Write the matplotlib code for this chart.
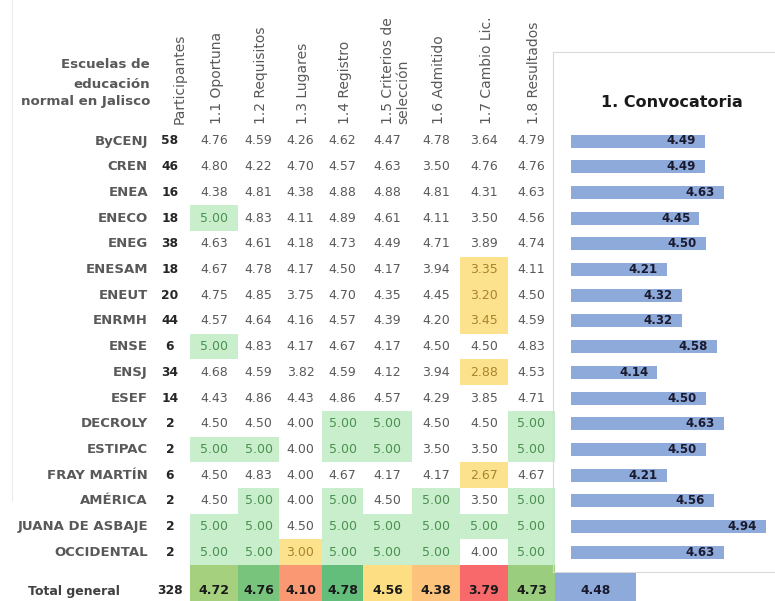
import numpy as np
import matplotlib.pyplot as plt
from matplotlib.patches import Rectangle
from matplotlib.colors import LinearSegmentedColormap, TwoSlopeNorm

escuelas = ['ByCENJ', 'CREN', 'ENEA', 'ENECO', 'ENEG', 'ENESAM', 'ENEUT', 'ENRMH',
            'ENSE', 'ENSJ', 'ESEF', 'DECROLY', 'ESTIPAC', 'FRAY MARTÍN', 'AMÉRICA',
            'JUANA DE ASBAJE', 'OCCIDENTAL']
participantes = [58, 46, 16, 18, 38, 18, 20, 44, 6, 34, 14, 2, 2, 6, 2, 2, 2]
columnas = ['1.1 Oportuna', '1.2 Requisitos', '1.3 Lugares', '1.4 Registro',
            '1.5 Criterios de\nselección', '1.6 Admitido', '1.7 Cambio Lic.', '1.8 Resultados']
valores = [
    [4.76, 4.59, 4.26, 4.62, 4.47, 4.78, 3.64, 4.79],
    [4.80, 4.22, 4.70, 4.57, 4.63, 3.50, 4.76, 4.76],
    [4.38, 4.81, 4.38, 4.88, 4.88, 4.81, 4.31, 4.63],
    [5.00, 4.83, 4.11, 4.89, 4.61, 4.11, 3.50, 4.56],
    [4.63, 4.61, 4.18, 4.73, 4.49, 4.71, 3.89, 4.74],
    [4.67, 4.78, 4.17, 4.50, 4.17, 3.94, 3.35, 4.11],
    [4.75, 4.85, 3.75, 4.70, 4.35, 4.45, 3.20, 4.50],
    [4.57, 4.64, 4.16, 4.57, 4.39, 4.20, 3.45, 4.59],
    [5.00, 4.83, 4.17, 4.67, 4.17, 4.50, 4.50, 4.83],
    [4.68, 4.59, 3.82, 4.59, 4.12, 3.94, 2.88, 4.53],
    [4.43, 4.86, 4.43, 4.86, 4.57, 4.29, 3.85, 4.71],
    [4.50, 4.50, 4.00, 5.00, 5.00, 4.50, 4.50, 5.00],
    [5.00, 5.00, 4.00, 5.00, 5.00, 3.50, 3.50, 5.00],
    [4.50, 4.83, 4.00, 4.67, 4.17, 4.17, 2.67, 4.67],
    [4.50, 5.00, 4.00, 5.00, 4.50, 5.00, 3.50, 5.00],
    [5.00, 5.00, 4.50, 5.00, 5.00, 5.00, 5.00, 5.00],
    [5.00, 5.00, 3.00, 5.00, 5.00, 5.00, 4.00, 5.00],
]
convocatoria = [4.49, 4.49, 4.63, 4.45, 4.50, 4.21, 4.32, 4.32, 4.58, 4.14,
                4.50, 4.63, 4.50, 4.21, 4.56, 4.94, 4.63]
total_participantes = 328
total_valores = [4.72, 4.76, 4.10, 4.78, 4.56, 4.38, 3.79, 4.73]
total_convocatoria = 4.48

# layout (pixels)
W, H = 775, 601
y0, dy = 141, 25.7
col_edges = [190, 238, 279, 322, 363, 412, 460, 508, 555]
gris = '#595959'

fig = plt.figure(figsize=(W / 100, H / 100), dpi=100)
ax = fig.add_axes([0, 0, 1, 1])
ax.set_xlim(0, W)
ax.set_ylim(H, 0)
ax.axis('off')

ax.plot([12, 12], [0, 500], color='#ebebeb', lw=0.8)

# header
ax.text(150, 65, 'Escuelas de', ha='right', va='center', fontsize=9.6, fontweight='bold', color=gris)
ax.text(150, 84, 'educación', ha='right', va='center', fontsize=9.6, fontweight='bold', color=gris)
ax.text(150, 102, 'normal en Jalisco', ha='right', va='center', fontsize=9.6, fontweight='bold', color=gris)
ax.text(180, 124, 'Participantes', rotation=90, ha='center', va='bottom', fontsize=10, color=gris)
for j, c in enumerate(columnas):
    xc = (col_edges[j] + col_edges[j + 1]) / 2 + 3
    if '\n' in c:
        xc += 5
    ax.text(xc, 124, c, rotation=90, ha='center', va='bottom', fontsize=10, color=gris,
            multialignment='left', linespacing=1.1)

# body
for i, nombre in enumerate(escuelas):
    yc = y0 + i * dy
    ax.text(148, yc, nombre, ha='right', va='center', fontsize=9.5, fontweight='bold', color=gris)
    ax.text(170, yc, str(participantes[i]), ha='center', va='center', fontsize=8.8,
            fontweight='bold', color='#262626')
    for j, v in enumerate(valores[i]):
        x1, x2 = col_edges[j], col_edges[j + 1]
        tc = gris
        if v >= 5.0:
            ax.add_patch(Rectangle((x1, yc - dy / 2), x2 - x1, dy, color='#c8eecb', lw=0))
            tc = '#4a9050'
        elif v < 3.5:
            ax.add_patch(Rectangle((x1, yc - dy / 2), x2 - x1, dy, color='#fde28e', lw=0))
            tc = '#a8842a'
        ax.text((x1 + x2) / 2, yc, f'{v:.2f}', ha='center', va='center', fontsize=9, color=tc)

# total row with color scale
cmap = LinearSegmentedColormap.from_list('ryg', ['#f8696b', '#ffeb84', '#63be7b'])
norm = TwoSlopeNorm(vmin=min(total_valores), vcenter=np.median(total_valores), vmax=max(total_valores))
yt = 591
ax.text(74, yt, 'Total general', ha='center', va='center', fontsize=9, fontweight='bold', color='#404040')
ax.text(170, yt, str(total_participantes), ha='center', va='center', fontsize=8.8,
        fontweight='bold', color='#262626')
for j, v in enumerate(total_valores):
    x1, x2 = col_edges[j], col_edges[j + 1]
    ax.add_patch(Rectangle((x1, 565), x2 - x1, 52, color=cmap(norm(v)), lw=0))
    ax.text((x1 + x2) / 2, yt, f'{v:.2f}', ha='center', va='center', fontsize=9,
            fontweight='bold', color='#1a1a1a')

# bar panel
px_unit = 135.4
x_start = 570.7
left_px, right_px, top_px, bot_px = 553, W, 52, 572
axb = fig.add_axes([left_px / W, (H - bot_px) / H, (right_px - left_px) / W, (bot_px - top_px) / H])
xmin = 3.5 - (x_start - left_px) / px_unit
axb.set_xlim(xmin, xmin + (right_px - left_px) / px_unit)
axb.set_ylim((bot_px - y0) / dy, (top_px - y0) / dy)
base = 3.5
ypos = np.arange(len(convocatoria))
axb.barh(ypos, np.array(convocatoria) - base, left=base, height=13 / dy, color='#8eaadb')
for i, v in enumerate(convocatoria):
    axb.annotate(f'{v:.2f}', xy=(v, i), xytext=(-9, 0), textcoords='offset pixels',
                 ha='right', va='center', fontsize=8.5, fontweight='bold', color='#1a1a2e')
axb.text(0.536, 0.902, '1. Convocatoria', transform=axb.transAxes, ha='center', va='center',
         fontsize=11.5, fontweight='bold', color='#1a1a1a')
axb.set_xticks([])
axb.set_yticks([])
for s in ['left', 'top', 'bottom']:
    axb.spines[s].set_color('#d9d9d9')
    axb.spines[s].set_linewidth(0.8)
axb.spines['right'].set_visible(False)
axb.patch.set_alpha(0)

# total bar
axt = fig.add_axes([555 / W, 0, 220 / W, (H - 573) / H])
axt.set_xlim(base, base + (total_convocatoria - base) * 220 / 81)
axt.set_ylim(0, 1)
axt.barh(0.5, total_convocatoria - base, left=base, height=1, color='#8eaadb')
axt.text((base + total_convocatoria) / 2, (H - yt) / (H - 573), f'{total_convocatoria:.2f}',
         ha='center', va='center', fontsize=8.8, fontweight='bold', color='#1a1a2e')
axt.axis('off')

fig.savefig('out.png', dpi=100)
